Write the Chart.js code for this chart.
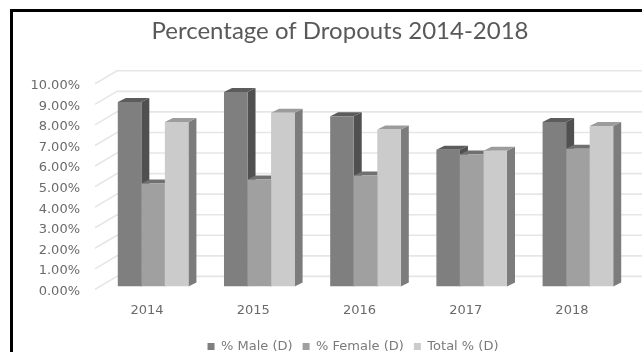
<!DOCTYPE html>
<html>
<head>
<meta charset="utf-8">
<title>Percentage of Dropouts 2014-2018</title>
<script src="https://cdn.jsdelivr.net/npm/chart.js@4"></script>
<style>
  html, body { margin: 0; padding: 0; background: #ffffff; }
  #wrap { position: absolute; left: 0; top: 0; width: 642px; height: 352px; overflow: hidden; }
  #frame { position: absolute; left: 10px; top: 9px; right: -5px; bottom: -5px; border: 3px solid #000000; }
  canvas { position: absolute; left: 0; top: 0; filter: blur(0.6px); }
</style>
</head>
<body>
<div id="wrap">
  <canvas id="chart" width="642" height="352"></canvas>
  <div id="frame"></div>
</div>
<script>
  var categories = ["2014", "2015", "2016", "2017", "2018"];
  var maleValues = [8.97, 9.45, 8.28, 6.65, 8.0];
  var femaleValues = [5.0, 5.2, 5.4, 6.42, 6.7];
  var totalValues = [8.0, 8.45, 7.63, 6.6, 7.8];
  var seriesNames = ["% Male (D)", "% Female (D)", "Total % (D)"];

  var frontColors = ["#7f7f7f", "#a0a0a0", "#cbcbcb"];
  var sideColors = ["#505050", "#6e6e6e", "#7c7c7c"];
  var topColors = ["#5c5c5c", "#707070", "#9c9c9c"];

  // depth of the bars and of the back wall, in pixels
  var barDepthX = 8;
  var barDepthY = 4;
  var wallX = 117;
  var wallDepthY = 10;

  function poly(ctx, pts, color) {
    ctx.fillStyle = color;
    ctx.beginPath();
    ctx.moveTo(pts[0][0], pts[0][1]);
    for (var i = 1; i < pts.length; i++) ctx.lineTo(pts[i][0], pts[i][1]);
    ctx.closePath();
    ctx.fill();
  }

  // Title and legend are not centred on the canvas in the original
  var placePlugin = {
    id: "place",
    afterLayout: function (chart) {
      chart.titleBlock.left = 38;
      chart.titleBlock.right = 642;
      chart.legend.left = 64;
      chart.legend.right = 642;
      chart.legend.top = 330;
    }
  };

  // Back wall gridlines and the slanted lines running to the tick labels
  var wallPlugin = {
    id: "wall",
    beforeDatasetsDraw: function (chart) {
      var ctx = chart.ctx;
      var y = chart.scales.y;
      ctx.save();
      y.ticks.forEach(function (tick) {
        var py = y.getPixelForValue(tick.value);
        ctx.strokeStyle = "#e6e6e6";
        ctx.lineWidth = 1.6;
        ctx.beginPath();
        ctx.moveTo(95, py + 3);
        ctx.lineTo(wallX, py - wallDepthY);
        ctx.lineTo(642, py - wallDepthY);
        ctx.stroke();
      });
      ctx.restore();
    }
  };

  // Side and top faces, painted under the fronts the library draws
  var depthPlugin = {
    id: "depth",
    beforeDatasetsDraw: function (chart) {
      var ctx = chart.ctx;
      ctx.save();
      chart.data.datasets.forEach(function (ds, d) {
        chart.getDatasetMeta(d).data.forEach(function (bar) {
          var p = bar.getProps(["x", "y", "base", "width"], true);
          var left = p.x - p.width / 2;
          var right = p.x + p.width / 2;
          poly(ctx, [[right, p.y], [right + barDepthX, p.y - barDepthY], [right + barDepthX, p.base - barDepthY], [right, p.base]], sideColors[d]);
          poly(ctx, [[left, p.y], [left + barDepthX, p.y - barDepthY], [right + barDepthX, p.y - barDepthY], [right, p.y]], topColors[d]);
        });
      });
      ctx.restore();
    }
  };

  new Chart(document.getElementById("chart"), {
    type: "bar",
    data: {
      labels: categories,
      datasets: [
        { label: seriesNames[0], data: maleValues, backgroundColor: frontColors[0] },
        { label: seriesNames[1], data: femaleValues, backgroundColor: frontColors[1] },
        { label: seriesNames[2], data: totalValues, backgroundColor: frontColors[2] }
      ]
    },
    options: {
      responsive: false,
      animation: false,
      layout: { padding: { top: 17, right: 11, bottom: -7, left: 0 } },
      datasets: { bar: { categoryPercentage: 0.665, barPercentage: 1 } },
      plugins: {
        title: {
          display: true,
          text: "Percentage of Dropouts 2014-2018",
          color: "#595959",
          font: { family: "Lato", size: 24, weight: "normal" },
          padding: { top: 0, bottom: 35 }
        },
        legend: {
          position: "bottom",
          labels: {
            boxWidth: 7,
            boxHeight: 7,
            padding: 10,
            color: "#7a7a7a",
            font: { family: "DejaVu Sans", size: 13 }
          }
        },
        tooltip: { enabled: false }
      },
      scales: {
        x: {
          grid: { display: false },
          border: { display: false },
          ticks: { color: "#6a6a6a", font: { family: "DejaVu Sans", size: 13 }, labelOffset: -6, padding: 8 }
        },
        y: {
          min: 0,
          max: 10,
          grid: { display: false, drawTicks: false },
          border: { display: false },
          afterFit: function (scale) { scale.width = 100; },
          ticks: {
            stepSize: 1,
            autoSkip: false,
            color: "#6a6a6a",
            padding: 20,
            labelOffset: 5,
            font: { family: "DejaVu Sans", size: 13 },
            callback: function (value) { return value.toFixed(2) + "%"; }
          }
        }
      }
    },
    plugins: [placePlugin, wallPlugin, depthPlugin]
  });
</script>
</body>
</html>
